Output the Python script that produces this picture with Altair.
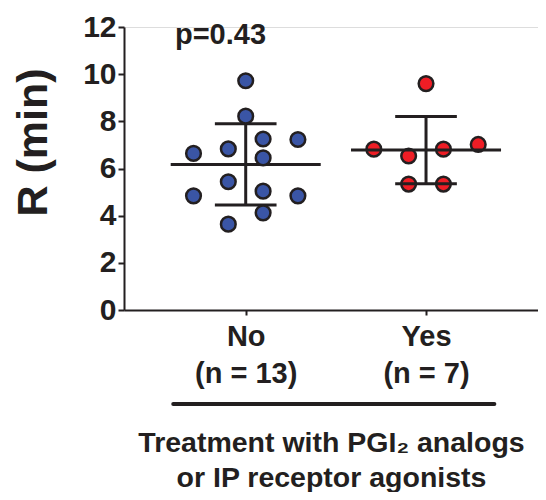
import altair as alt
import pandas as pd
import numpy as np

# ---- data ----
groups = ["No", "Yes"]
group_labels = [["No", "(n = 13)"], ["Yes", "(n = 7)"]]
no_values = [9.72, 8.22, 7.25, 7.23, 6.64, 6.83, 6.45, 5.44, 4.84, 5.04, 4.84, 4.12, 3.64]
no_slots = [0, 0, 1, 3, -3, -1, 1, -1, -3, 1, 3, 1, -1]
yes_values = [9.60, 6.82, 6.53, 6.82, 7.02, 5.34, 5.34]
yes_slots = [0, -3, -1, 1, 3, -1, 1]
p_text = "p=0.43"
y_title = "R (min)"
x_title = ["Treatment with PGI\u2082 analogs", "or IP receptor agonists"]
y_ticks = [0, 2, 4, 6, 8, 10, 12]

colors = ["#3A55A5", "#EE1D25"]
ink = "#231F20"
FONT = "Liberation Sans"
SLOT = 0.0965

rows = []
for gi, (vals, slots) in enumerate([(no_values, no_slots), (yes_values, yes_slots)]):
    for v, s in zip(vals, slots):
        rows.append({"group": groups[gi], "x": gi + 1 + s * SLOT, "y": v})
pts = pd.DataFrame(rows)

stats = []
for gi, vals in enumerate([no_values, yes_values]):
    a = np.array(vals)
    m, sd = a.mean(), a.std(ddof=1)
    c = gi + 1
    stats.append({"group": groups[gi], "c": c, "mean": m, "lo": m - sd, "hi": m + sd,
                  "ml": c - 0.416, "mr": c + 0.416, "wl": c - 0.171, "wr": c + 0.171})
st = pd.DataFrame(stats)

xscale = alt.Scale(domain=[0.325, 2.621], nice=False, zero=False)
yscale = alt.Scale(domain=[0, 12], nice=False)

label_expr = " : ".join(
    [f"datum.value == {i+1} ? {lab!r}" for i, lab in enumerate(group_labels[:-1])]
    + [repr(group_labels[-1])]
)

xaxis = alt.Axis(values=[1, 2], labelExpr=label_expr, title=x_title,
                 labelFont=FONT, labelFontSize=29, labelFontWeight="bold", labelColor=ink,
                 labelLineHeight=37, labelPadding=7, labelAngle=0,
                 titleFont=FONT, titleFontSize=28.5, titleFontWeight="bold", titleColor=ink,
                 titleLineHeight=35, titlePadding=40,
                 domainColor=ink, domainWidth=2, tickColor=ink, tickWidth=2, tickSize=5,
                 grid=False)
yaxis = alt.Axis(values=y_ticks, title=y_title,
                 labelFont=FONT, labelFontSize=30, labelFontWeight="bold", labelColor=ink,
                 labelPadding=2,
                 titleFont=FONT, titleFontSize=43, titleFontWeight="bold", titleColor=ink,
                 titleX=-78, titleY=115, titleAngle=270, titleAlign="center",
                 titleBaseline="alphabetic",
                 domainColor=ink, domainWidth=2, tickColor=ink, tickWidth=2, tickSize=6,
                 grid=False)

base_pts = alt.Chart(pts)

def points(g, col):
    return base_pts.transform_filter(alt.datum.group == g).mark_circle(
        size=215, opacity=1, fill=col, stroke=ink, strokeWidth=2.5
    ).encode(x=alt.X("x:Q", scale=xscale, axis=xaxis),
             y=alt.Y("y:Q", scale=yscale, axis=yaxis))

sb = alt.Chart(st)
mean_rule = sb.mark_rule(color=ink, strokeWidth=3).encode(
    x=alt.X("ml:Q", scale=xscale), x2="mr:Q", y=alt.Y("mean:Q", scale=yscale))
hi_rule = sb.mark_rule(color=ink, strokeWidth=3).encode(
    x=alt.X("wl:Q", scale=xscale), x2="wr:Q", y=alt.Y("hi:Q", scale=yscale))
lo_rule = sb.mark_rule(color=ink, strokeWidth=3).encode(
    x=alt.X("wl:Q", scale=xscale), x2="wr:Q", y=alt.Y("lo:Q", scale=yscale))
vert = sb.mark_rule(color=ink, strokeWidth=3).encode(
    x=alt.X("c:Q", scale=xscale), y=alt.Y("lo:Q", scale=yscale), y2="hi:Q")

underline = alt.Chart(pd.DataFrame({"a": [0.598], "b": [2.379]})).mark_rule(
    color=ink, strokeWidth=4, strokeCap="round").encode(
    x=alt.X("a:Q", scale=xscale), x2="b:Q", y=alt.value(377))

ptext = alt.Chart(pd.DataFrame({"t": [p_text]})).mark_text(
    font=FONT, fontSize=29, fontWeight="bold", color=ink, align="center",
    baseline="alphabetic").encode(
    x=alt.datum(0.86), y=alt.datum(11.28), text="t:N")

chart = alt.layer(
    points(groups[1], colors[1]),
    mean_rule, hi_rule, lo_rule, vert,
    points(groups[0], colors[0]),
    underline, ptext,
).properties(
    width=414, height=283,
    autosize=alt.AutoSizeParams(type="none"),
    padding={"left": 116, "top": 19, "right": 0, "bottom": 182},
).configure_view(stroke=None).configure(background="white")

chart.save("out.html", embed_options={"renderer": "svg", "actions": False})
